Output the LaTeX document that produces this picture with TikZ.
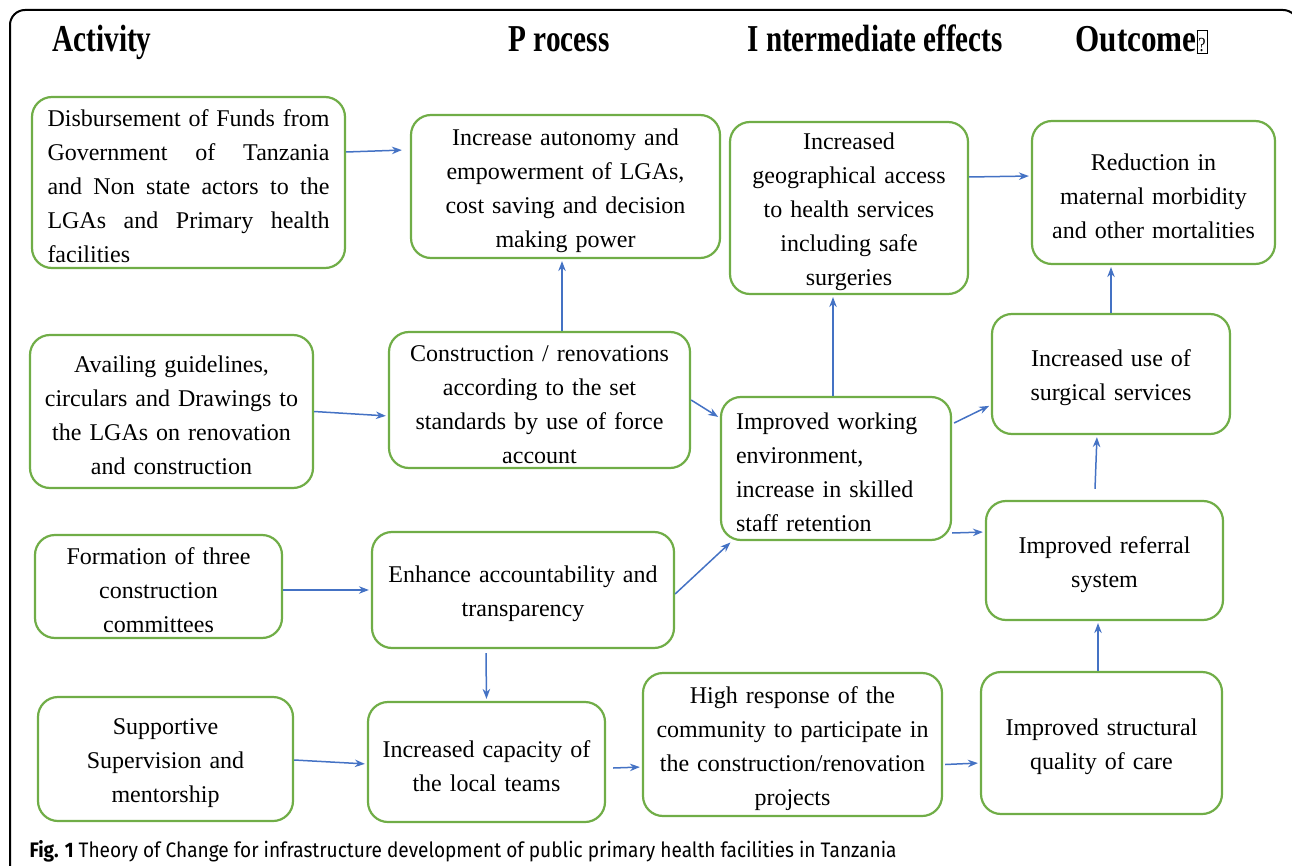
\documentclass[tikz,border=0pt]{standalone}
\usepackage{fontspec}
\setmainfont{Liberation Serif}
\newfontfamily\capfont{Fira Sans}
\usetikzlibrary{arrows.meta}
\definecolor{boxgreen}{HTML}{70AD47}
\definecolor{arrowblue}{HTML}{4472C4}
\newcommand{\hd}[2]{\resizebox{#1pt}{\height}{\bfseries #2}}
\newcommand{\jl}[1]{\makebox[282pt][l]{#1}}
\newcommand{\qm}{{\setlength{\fboxsep}{1pt}\setlength{\fboxrule}{1.2pt}\fbox{\rule{0pt}{20pt}\fontsize{20}{20}\selectfont\mdseries ?}}}
\begin{document}
\begin{tikzpicture}[x=1pt, y=-1pt, >={Stealth[length=10pt,width=7.5pt]},
 box/.style={draw=boxgreen, line width=2.2pt, rounded corners=20pt, align=center, inner sep=0pt, font=\fontsize{24}{34}\selectfont, execute at begin node={\rule{0pt}{25pt}}},
 hdr/.style={anchor=base west, font=\fontsize{38}{38}\selectfont},
 arr/.style={->, draw=arrowblue, line width=1.5pt, shorten >=2pt}]
 \useasboundingbox (0,0) rectangle (1292,866);
 \draw[line width=2pt, rounded corners=15pt](10,880)--(10,10)--(1298,10)--(1298,880);
 % column heads
 \node[hdr] (hact) at (49,52) {\hd{99}{Activity}};
 \node[hdr] (hpro) at (505,52) {\hd{101}{P rocess}};
 \node[hdr] (hint) at (744,52) {\hd{255}{I ntermediate effects}};
 \node[hdr] (hout) at (1072,52) {\hd{132}{Outcome\qm}};
 % activities
 \node[box, minimum width=313, minimum height=171, text width=282, align=left] (a1) at (188.5,182.5)
  {\jl{Disbursement\hfill of\hfill Funds\hfill from}\\ \jl{Government\hfill of\hfill Tanzania}\\ \jl{and\hfill Non\hfill state\hfill actors\hfill to\hfill the}\\ \jl{LGAs\hfill and\hfill Primary\hfill health}\\ facilities};
 \node[box, minimum width=283, minimum height=153, text width=275] (a2) at (171.5,411.5)
  {Availing guidelines,\\ circulars and Drawings to\\ the LGAs on renovation\\ and construction};
 \node[box, minimum width=247, minimum height=103, text width=239] (a3) at (158.5,586.5)
  {Formation of three\\ construction\\ committees};
 \node[box, minimum width=255, minimum height=124, text width=247] (a4) at (165.5,759)
  {Supportive\\ Supervision and\\ mentorship};
 % process
 \node[box, minimum width=309, minimum height=143, text width=301] (p1) at (565.5,186.5)
  {Increase autonomy and\\ empowerment of LGAs,\\ cost saving and decision\\ making power};
 \node[box, minimum width=301, minimum height=136, text width=293] (p2) at (539.5,400)
  {Construction / renovations\\ according to the set\\ standards by use of force\\ account};
 \node[box, minimum width=302, minimum height=116, text width=294] (p3) at (523,590)
  {Enhance accountability and\\ transparency};
 \node[box, minimum width=237, minimum height=120, text width=229] (p4) at (486.5,762)
  {Increased capacity of\\ the local teams};
 % intermediate effects
 \node[box, minimum width=238, minimum height=172, text width=230] (i1) at (849,208)
  {Increased\\ geographical access\\ to health services\\ including safe\\ surgeries};
 \node[box, minimum width=230, minimum height=143, text width=200, align=left] (i2) at (836,468.5)
  {Improved working\\ environment,\\ increase in skilled\\ staff retention};
 \node[box, minimum width=299, minimum height=143, text width=291] (i3) at (792.5,744.5)
  {High response of the\\ community to participate in\\ the construction/renovation\\ projects};
 % outcomes
 \node[box, minimum width=243, minimum height=143, text width=235] (o1) at (1153.5,192.5)
  {Reduction in\\ maternal morbidity\\ and other mortalities};
 \node[box, minimum width=238, minimum height=120, text width=230] (o2) at (1111,374)
  {Increased use of\\ surgical services};
 \node[box, minimum width=237, minimum height=119, text width=229] (o3) at (1104.5,560.5)
  {Improved referral\\ system};
 \node[box, minimum width=241, minimum height=142, text width=233] (o4) at (1101.5,743)
  {Improved structural\\ quality of care};
 % links
 \draw[arr]([yshift=30.5]a1.east)--([xshift=-6,yshift=36.5]p1.west);
 \draw[arr](a2.east)--([yshift=-16]p2.west);
 \draw[arr]([yshift=-3.5]a3.east)--(p3.west);
 \draw[arr]([yshift=-1]a4.east)--([yshift=-2]p4.west);
 \draw[arr]([xshift=22.5]p2.north)--([xshift=-3.5]p1.south);
 \draw[arr](p2.east)--([yshift=50.5]i2.west);
 \draw[arr]([yshift=-4]p3.east)--([xshift=12]i2.south west);
 \draw[arr]([xshift=-37,yshift=-4]p3.south)--(p4.north);
 \draw[arr]([xshift=7,yshift=-6]p4.east)--([yshift=-22.5]i3.west);
 \draw[arr]([xshift=2,yshift=-20]i3.east)--([yshift=-20]o4.west);
 \draw[arr]([xshift=-3.5]o4.north)--([xshift=-6.5]o3.south);
 \draw[arr]([xshift=-9.5,yshift=11]o3.north)--([xshift=-14]o2.south);
 \draw[arr](o2.north)--([xshift=-42.5]o1.south);
 \draw[arr]([xshift=-3]i2.north)--([xshift=-16]i1.south);
 \draw[arr]([xshift=2,yshift=45.5]i2.east)--([yshift=-31]o2.west);
 \draw[arr]([yshift=-64.5]i2.east)--([yshift=28.5]o3.west);
 \draw[arr]([yshift=31]i1.east)--([yshift=16.5]o1.west);
 % caption
 \node[anchor=base west, font=\capfont\fontsize{21}{21}\selectfont] (cap) at (26,857)
  {\resizebox{867pt}{\height}{\textbf{Fig. 1} Theory of Change for infrastructure development of public primary health facilities in Tanzania}};
\end{tikzpicture}
\end{document}
